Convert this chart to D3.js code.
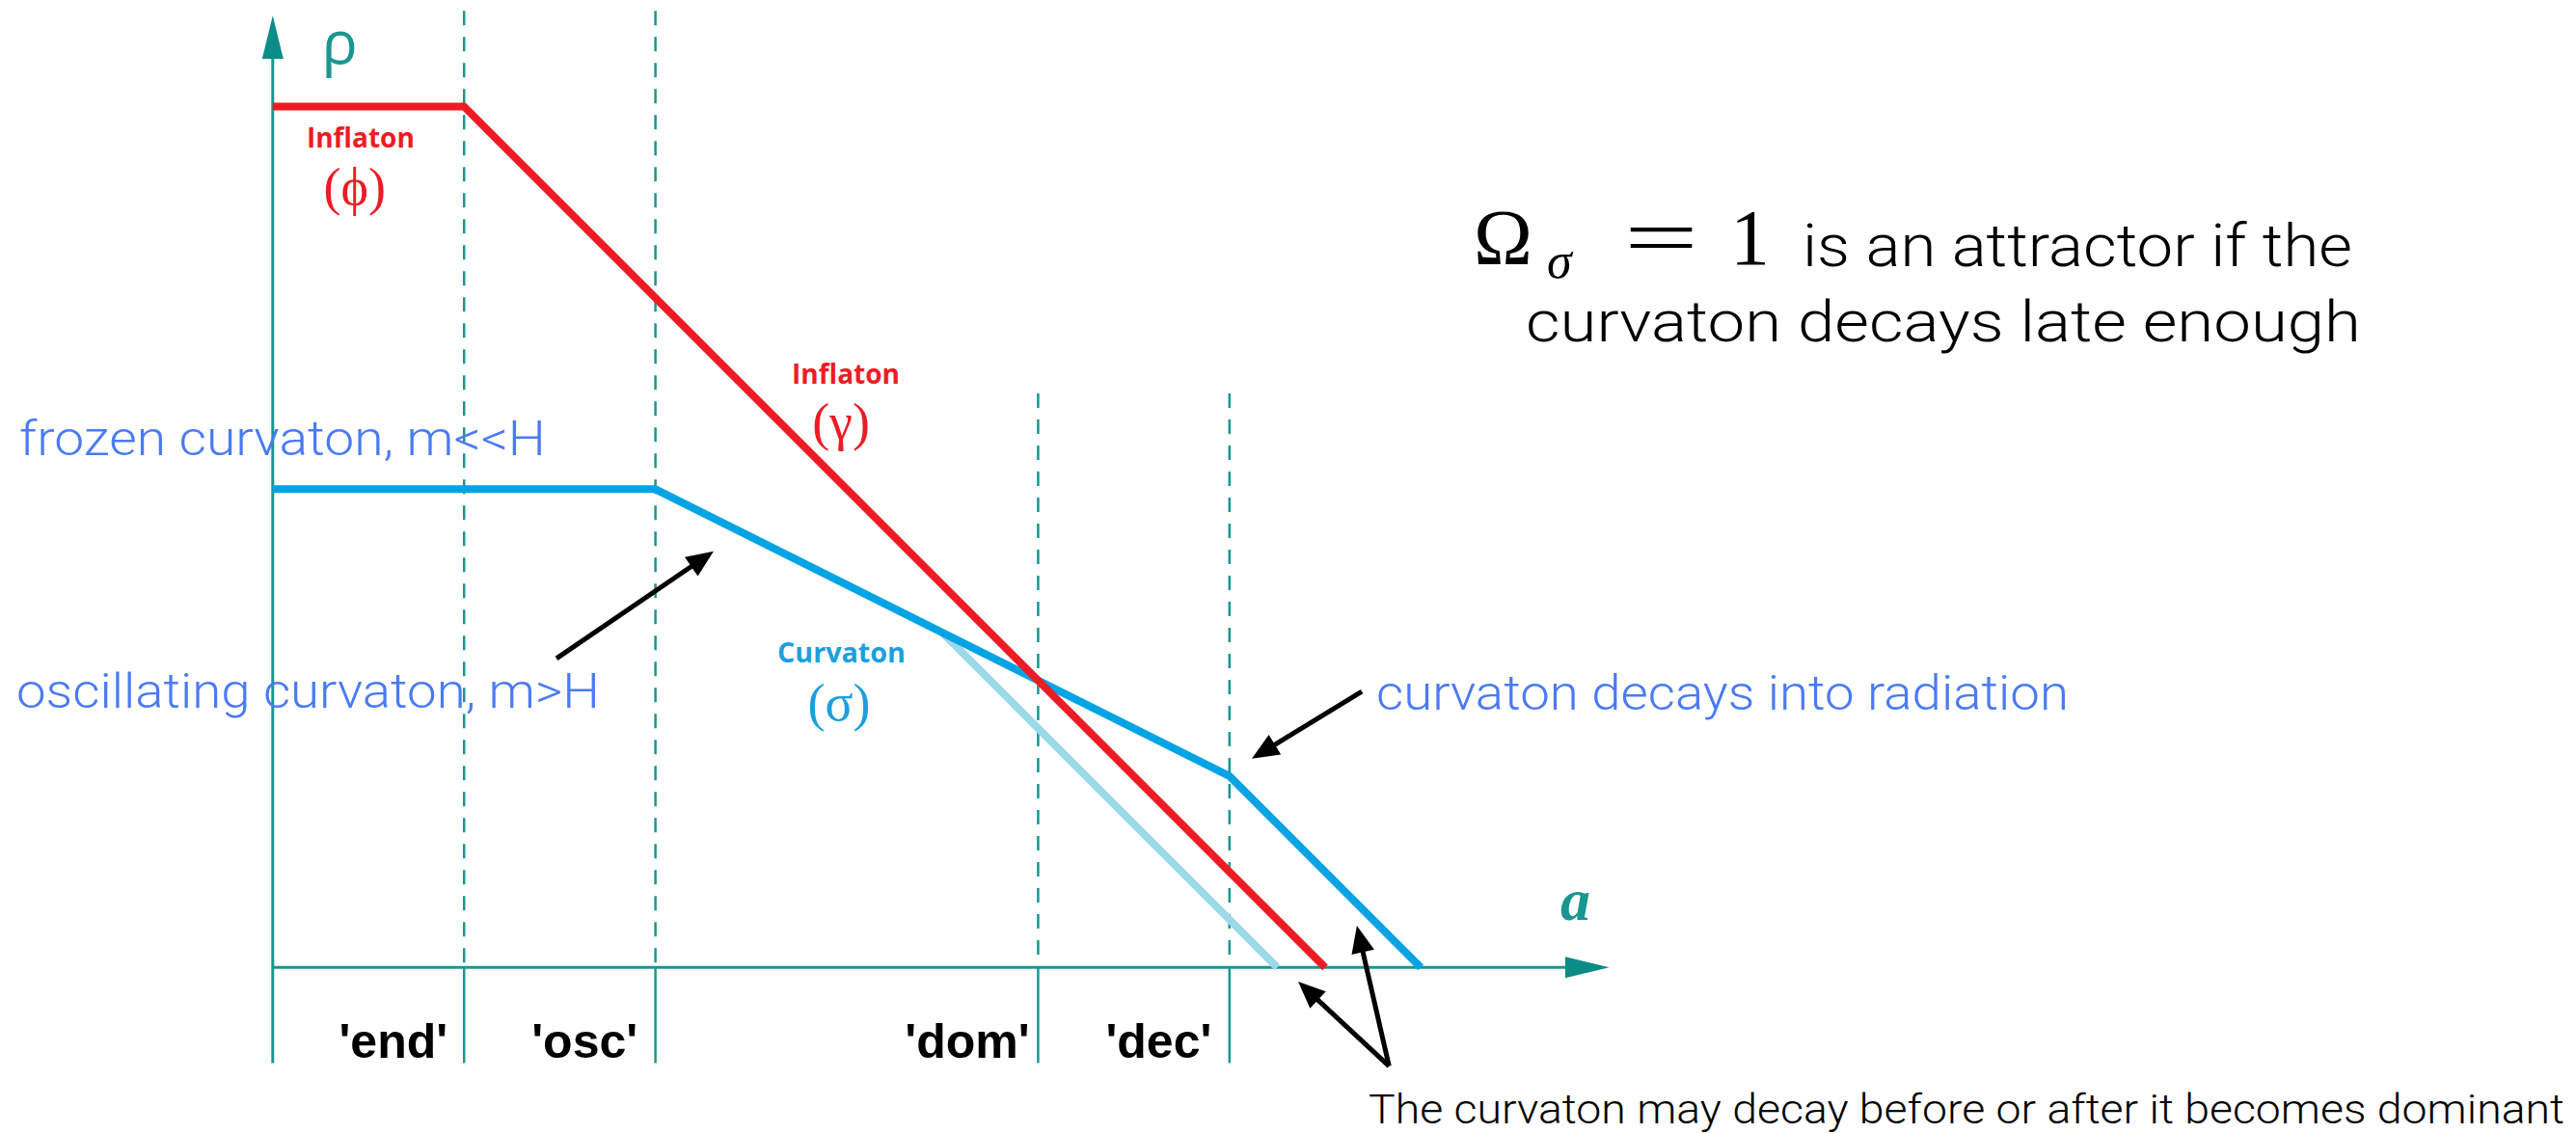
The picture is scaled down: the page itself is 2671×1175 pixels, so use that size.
<!DOCTYPE html>
<html>
<head>
<meta charset="utf-8">
<script src="https://cdnjs.cloudflare.com/ajax/libs/d3/7.8.5/d3.min.js"></script>
<style>
  body { margin: 0; background: #fff; }
  svg { display: block; }
</style>
</head>
<body>
<script>
// energy density sketch, log(a) on x, log(rho) on y (arbitrary units)
const inflaton = [[0, 4.5], [1, 4.5], [5.5, 0]];
const curvaton = [[0, 2.5], [2, 2.5], [5, 1], [6, 0]];
const curvatonEarly = [[3.5, 1.75], [5.25, 0]];

const epochs = ["'end'", "'osc'", "'dom'", "'dec'"];
const epochX = [1, 2, 4, 5];
const epochTop = [5, 5, 3, 3];

// annotation arrows: [tail, tip]
const arrows = [
  [[1.483, 1.615], [2.304, 2.175]],
  [[5.692, 1.443], [5.117, 1.091]],
  [[5.834, -0.516], [5.359, -0.074]],
  [[5.834, -0.516], [5.666, 0.218]]
];

const width = 2671, height = 1175;
const teal = "#1a9690", tealDark = "#0b8c86";
const red = "#ed1c24", blue = "#00a3e4", lightBlue = "#9cd9ea";
const textBlue = "#4a7af5", labelBlue = "#1b9fe0";

const svg = d3.select("body").append("svg")
  .attr("width", width)
  .attr("height", height);

const x = d3.scaleLinear().domain([0, 7]).range([282.8, 282.8 + 7 * 198.4]);
const y = d3.scaleLinear().domain([0, 5]).range([1003.3, 1003.3 - 5 * 198.4]);

const line = d3.line().x(d => x(d[0])).y(d => y(d[1]));

// epoch lines: dashed above the axis, solid below
epochX.forEach((v, i) => {
  svg.append("line")
    .attr("x1", x(v)).attr("x2", x(v))
    .attr("y1", y(epochTop[i])).attr("y2", y(0))
    .attr("stroke", teal).attr("stroke-width", 2.5)
    .attr("stroke-dasharray", "15,12");
  svg.append("line")
    .attr("x1", x(v)).attr("x2", x(v))
    .attr("y1", y(0)).attr("y2", y(-0.5))
    .attr("stroke", teal).attr("stroke-width", 2.5);
  svg.append("text")
    .attr("x", x(v - 0.37)).attr("y", y(-0.47))
    .attr("text-anchor", "middle")
    .style("font-family", "Liberation Sans, Arial, sans-serif")
    .style("font-weight", "bold")
    .style("font-size", "50px")
    .attr("fill", "#000")
    .text(epochs[i]);
});

// axes
svg.append("line")
  .attr("x1", x(0)).attr("x2", x(0))
  .attr("y1", y(-0.5)).attr("y2", y(4.76))
  .attr("stroke", teal).attr("stroke-width", 3);
svg.append("path")
  .attr("d", `M${x(0)},${y(4.975)} L${x(0) - 11},${y(4.75)} L${x(0) + 11},${y(4.75)} Z`)
  .attr("fill", tealDark);

svg.append("line")
  .attr("x1", x(0)).attr("x2", x(6.76))
  .attr("y1", y(0)).attr("y2", y(0))
  .attr("stroke", teal).attr("stroke-width", 3);
svg.append("path")
  .attr("d", `M${x(6.985)},${y(0)} L${x(6.755)},${y(0) - 11} L${x(6.755)},${y(0) + 11} Z`)
  .attr("fill", tealDark);

svg.append("text")
  .attr("x", x(0.255)).attr("y", y(4.724))
  .style("font-family", "Open Sans, sans-serif")
  .style("font-size", "62px")
  .attr("fill", teal)
  .text("ρ");

svg.append("text")
  .attr("x", x(6.73)).attr("y", y(0.248))
  .style("font-family", "Liberation Serif, serif")
  .style("font-style", "italic")
  .style("font-weight", "bold")
  .style("font-size", "62px")
  .attr("fill", teal)
  .text("a");

// series
const series = [
  { data: curvatonEarly, color: lightBlue },
  { data: curvaton, color: blue },
  { data: inflaton, color: red }
];
series.forEach(s => {
  svg.append("path")
    .attr("d", line(s.data))
    .attr("fill", "none")
    .attr("stroke", s.color)
    .attr("stroke-width", 8)
    .attr("stroke-linejoin", "round");
});

// species labels
function species(name, sym, lx, ly, w, sx, sy, color) {
  svg.append("text")
    .attr("x", x(lx)).attr("y", y(ly))
    .attr("textLength", w).attr("lengthAdjust", "spacingAndGlyphs")
    .style("font-family", "Open Sans, sans-serif")
    .style("font-weight", "bold")
    .style("font-size", "29px")
    .attr("fill", color)
    .text(name);
  svg.append("text")
    .attr("x", x(sx)).attr("y", y(sy))
    .attr("text-anchor", "middle")
    .style("font-family", "Liberation Serif, DejaVu Serif, serif")
    .style("font-size", "54px")
    .attr("fill", color)
    .text(sym);
}
species("Inflaton", "(\u03D5)", 0.177, 4.286, 112, 0.428, 3.99, red);
species("Inflaton", "(γ)", 2.713, 3.05, 112, 2.97, 2.76, red);
species("Curvaton", "(σ)", 2.637, 1.594, 133, 2.96, 1.29, labelBlue);

// annotations
function note(str, lx, ly, w, size, color) {
  svg.append("text")
    .attr("x", x(lx)).attr("y", y(ly))
    .attr("textLength", w).attr("lengthAdjust", "spacingAndGlyphs")
    .style("font-family", "Roboto, Liberation Sans, sans-serif")
    .style("font-weight", 300)
    .style("font-size", size + "px")
    .attr("fill", color)
    .text(str);
}
note("frozen curvaton, m<<H", -1.325, 2.678, 546, 50, textBlue);
note("oscillating curvaton, m>H", -1.34, 1.357, 605, 50, textBlue);
note("curvaton decays into radiation", 5.767, 1.347, 718, 50, textBlue);
note("The curvaton may decay before or after it becomes dominant", 5.727, -0.815, 1240, 43, "#000");

arrows.forEach(a => {
  const x0 = x(a[0][0]), y0 = y(a[0][1]), x1 = x(a[1][0]), y1 = y(a[1][1]);
  const len = Math.hypot(x1 - x0, y1 - y0);
  const ux = (x1 - x0) / len, uy = (y1 - y0) / len;
  const hl = 28, hw = 12;
  svg.append("line")
    .attr("x1", x0).attr("y1", y0)
    .attr("x2", x1 - ux * (hl - 4)).attr("y2", y1 - uy * (hl - 4))
    .attr("stroke", "#000").attr("stroke-width", 5);
  const bx = x1 - ux * hl, by = y1 - uy * hl;
  svg.append("path")
    .attr("d", `M${x1},${y1} L${bx - uy * hw},${by + ux * hw} L${bx + uy * hw},${by - ux * hw} Z`)
    .attr("fill", "#000");
});

// attractor statement
const eq = svg.append("text")
  .attr("x", 1528).attr("y", 274)
  .style("font-family", "Liberation Serif, serif")
  .style("font-size", "82px");
eq.append("tspan").text("Ω");
eq.append("tspan").attr("x", 1604).attr("dy", 14)
  .style("font-style", "italic").style("font-size", "52px").text("σ");
eq.append("tspan").attr("x", 1684).attr("dy", -14)
  .attr("textLength", 77).attr("lengthAdjust", "spacingAndGlyphs").text("=");
eq.append("tspan").attr("x", 1794).text("1");

svg.append("text").attr("x", 1869).attr("y", 276)
  .attr("textLength", 570).attr("lengthAdjust", "spacingAndGlyphs")
  .style("font-family", "Roboto, Liberation Sans, sans-serif").style("font-weight", 300).style("font-size", "62px")
  .text("is an attractor if the");
svg.append("text").attr("x", 1582).attr("y", 354)
  .attr("textLength", 866).attr("lengthAdjust", "spacingAndGlyphs")
  .style("font-family", "Roboto, Liberation Sans, sans-serif").style("font-weight", 300).style("font-size", "60px")
  .text("curvaton decays late enough");
</script>
</body>
</html>
